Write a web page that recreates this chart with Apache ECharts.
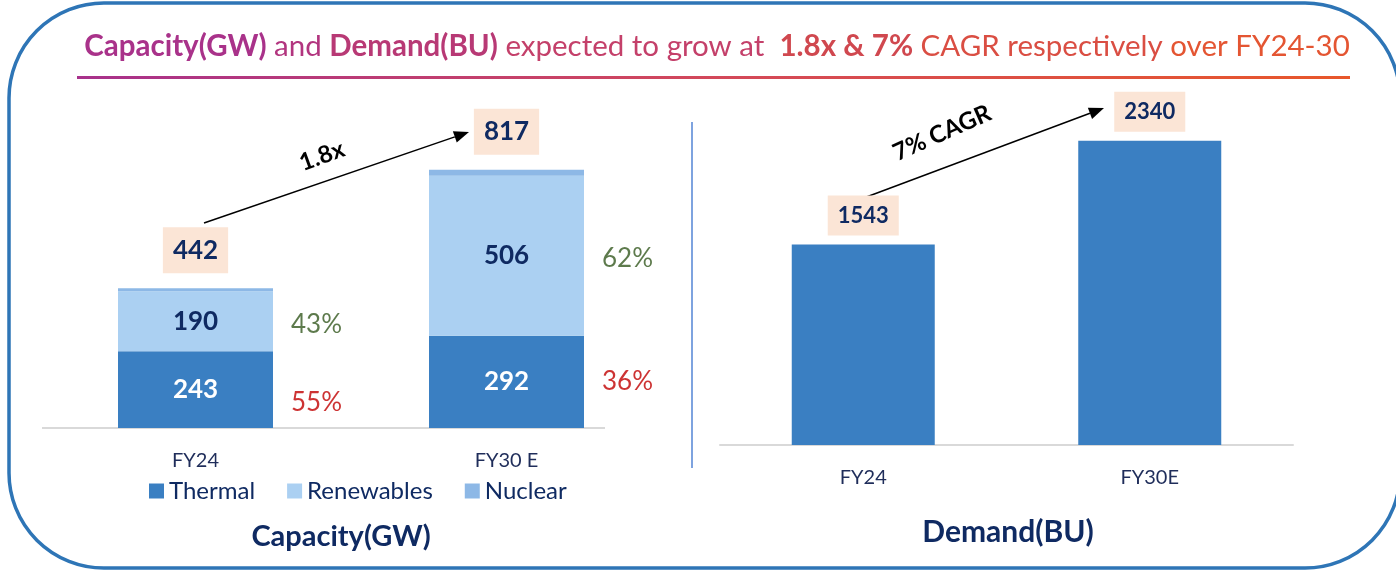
<!DOCTYPE html>
<html>
<head>
<meta charset="utf-8">
<script src="https://cdn.jsdelivr.net/npm/echarts@6/dist/echarts.min.js"></script>
<style>
  html, body { margin: 0; padding: 0; background: #fff; }
  #chart { width: 1396px; height: 570px; }
</style>
</head>
<body>
<div id="chart"></div>
<script>
// ---- 数据 ----
const capCats = ['FY24', 'FY30 E'];
const thermal = [243, 292];
const renewables = [190, 506];
const nuclear = [9, 19];
const capTotals = [442, 817];
const thermalPct = [55, 36];
const renewPct = [43, 62];

const demCats = ['FY24', 'FY30E'];
const demand = [1543, 2340];

// ---- 样式 ----
const FONT = 'Lato';
const NAVY = '#0f2a62';
const C_THERMAL = '#3a7fc2';
const C_RENEW = '#abd0f2';
const C_NUC = '#8db8e6';
const BOX_BG = '#fbe5d6';

function arrow(x1, y1, x2, y2) {
  const a = Math.atan2(y2 - y1, x2 - x1);
  const len = 15, half = 6;
  const bx = x2 - len * Math.cos(a), by = y2 - len * Math.sin(a);
  const px = -Math.sin(a) * half, py = Math.cos(a) * half;
  return [
    { type: 'line', shape: { x1, y1, x2: bx, y2: by }, style: { stroke: '#000', lineWidth: 1.5 } },
    { type: 'polygon', shape: { points: [[x2, y2], [bx + px, by + py], [bx - px, by - py]] }, style: { fill: '#000' } }
  ];
}

function rotText(text, x, y, deg) {
  return {
    type: 'text', x, y, rotation: deg * Math.PI / 180,
    style: { text, font: `bold 24px ${FONT}`, fill: '#000', align: 'center', verticalAlign: 'middle' }
  };
}

const chart = echarts.init(document.getElementById('chart'));

// 标题分段着色，模拟紫→橙渐变
const titleSegs = [
  ['Capacity(GW)', 'b', '#a9328a'],
  [' and ', 'n', '#b2357f'],
  ['Demand(BU)', 'b', '#b83975'],
  [' expected to grow at  ', 'n', '#c4406a'],
  ['1.8x & 7%', 'b', '#d0484f'],
  [' CAGR respectively', 'n', '#da4e43'],
  [' over FY24-30', 'n', '#e45532']
];
const rich = {};
let titleText = '';
titleSegs.forEach((s, i) => {
  rich['s' + i] = { fontFamily: FONT, fontSize: 29.5, fontWeight: s[1] === 'b' ? 'bold' : 'normal', fill: s[2] };
  titleText += `{s${i}|${s[0]}}`;
});

chart.setOption({
  animation: false,
  textStyle: { fontFamily: FONT },
  legend: {
    left: 144, top: 474,
    itemWidth: 15, itemHeight: 15, itemGap: 32,
    icon: 'rect',
    textStyle: { fontSize: 24, color: NAVY, fontFamily: FONT },
    data: ['Thermal', 'Renewables', 'Nuclear']
  },
  grid: [
    { left: 40, width: 622, top: 112, height: 316 },
    { left: 720, width: 573, top: 55, height: 390 }
  ],
  xAxis: [
    {
      type: 'category', gridIndex: 0, data: capCats,
      axisLine: { show: false }, axisTick: { show: false },
      axisLabel: { fontSize: 20, color: '#1f2d5a', margin: 23 }
    },
    {
      type: 'category', gridIndex: 1, data: demCats,
      axisLine: { lineStyle: { color: '#d9d9d9', width: 2 } }, axisTick: { show: false },
      axisLabel: { fontSize: 20, color: '#1f2d5a', margin: 23 }
    }
  ],
  yAxis: [
    { type: 'value', gridIndex: 0, min: 0, max: 1000, show: false },
    { type: 'value', gridIndex: 1, min: 0, max: 3000, show: false }
  ],
  series: [
    {
      name: 'Thermal', type: 'bar', stack: 'cap', xAxisIndex: 0, yAxisIndex: 0,
      barWidth: 155, data: thermal, itemStyle: { color: C_THERMAL },
      label: { show: true, position: 'inside', color: '#fff', fontSize: 26, fontWeight: 'bold' }
    },
    {
      name: 'Renewables', type: 'bar', stack: 'cap', xAxisIndex: 0, yAxisIndex: 0,
      barWidth: 155, data: renewables, itemStyle: { color: C_RENEW },
      label: { show: true, position: 'inside', color: NAVY, fontSize: 26, fontWeight: 'bold' }
    },
    {
      name: 'Nuclear', type: 'bar', stack: 'cap', xAxisIndex: 0, yAxisIndex: 0,
      barWidth: 155, data: nuclear, itemStyle: { color: C_NUC },
      label: {
        show: true, position: 'top', distance: 15,
        formatter: (p) => capTotals[p.dataIndex],
        color: NAVY, fontSize: 26, fontWeight: 'bold', lineHeight: 28,
        backgroundColor: BOX_BG, padding: [9, 10]
      }
    },
    {
      type: 'scatter', xAxisIndex: 0, yAxisIndex: 0, symbolSize: 0, silent: true,
      data: thermal.map((v, i) => ({ value: [capCats[i], v / 2], label: { offset: [121, i === 0 ? 13 : 0] } })),
      label: { show: true, position: 'inside', formatter: (p) => thermalPct[p.dataIndex] + '%', color: '#c00000', fontSize: 26 }
    },
    {
      type: 'scatter', xAxisIndex: 0, yAxisIndex: 0, symbolSize: 0, silent: true,
      data: renewables.map((v, i) => [capCats[i], thermal[i] + v / 2]),
      label: { show: true, position: 'inside', offset: [121, 3], formatter: (p) => renewPct[p.dataIndex] + '%', color: '#35591f', fontSize: 26 }
    },
    {
      name: 'Demand', type: 'bar', xAxisIndex: 1, yAxisIndex: 1,
      barWidth: 143, data: demand, itemStyle: { color: C_THERMAL },
      label: {
        show: true, position: 'top', distance: 9,
        color: NAVY, fontSize: 22, fontWeight: 'bold', lineHeight: 24,
        backgroundColor: BOX_BG, padding: [8, 10]
      }
    }
  ],
  graphic: [
    // 外框
    { type: 'rect', shape: { x: 9, y: 3, width: 1391, height: 565, r: 95 }, style: { fill: 'none', stroke: '#2e75b6', lineWidth: 3.5 }, z: 10 },
    // 标题 + 渐变下划线
    { type: 'text', x: 717, y: 46, style: { text: titleText, rich, align: 'center', verticalAlign: 'middle' } },
    {
      type: 'rect', shape: { x: 77, y: 76, width: 1273, height: 3 },
      style: { fill: new echarts.graphic.LinearGradient(0, 0, 1, 0, [
        { offset: 0, color: '#a8318c' }, { offset: 0.5, color: '#d3485a' }, { offset: 1, color: '#e8572a' }
      ]) }
    },
    // 中间分隔线
    { type: 'line', shape: { x1: 692, y1: 122, x2: 692, y2: 468 }, style: { stroke: '#7ea3df', lineWidth: 2 } },
    // 左图坐标轴线
    { type: 'line', shape: { x1: 42, y1: 428, x2: 605, y2: 428 }, style: { stroke: '#d9d9d9', lineWidth: 2 } },
    // 箭头 + 注释
    ...arrow(204, 223, 469, 132),
    rotText('1.8x', 322, 156, 20),
    ...arrow(861, 199, 1104, 108),
    rotText('7% CAGR', 942, 133, 24),
    // 子标题
    { type: 'text', x: 341, y: 537, style: { text: 'Capacity(GW)', font: `bold 29px ${FONT}`, fill: NAVY, align: 'center', verticalAlign: 'middle' } },
    { type: 'text', x: 1008, y: 532, style: { text: 'Demand(BU)', font: `bold 30px ${FONT}`, fill: NAVY, align: 'center', verticalAlign: 'middle' } }
  ]
});
</script>
</body>
</html>
